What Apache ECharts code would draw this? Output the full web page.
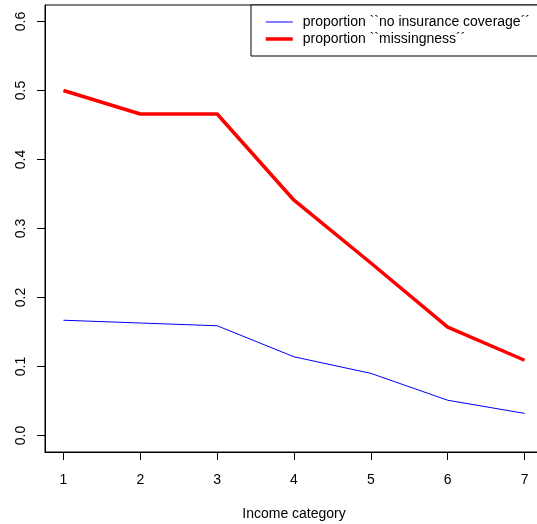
<!DOCTYPE html>
<html>
<head>
<meta charset="utf-8">
<script src="https://cdn.jsdelivr.net/npm/echarts@6/dist/echarts.min.js"></script>
<style>html,body{margin:0;padding:0;background:#fff}#c{width:537px;height:524px}</style>
</head>
<body>
<div id="c"></div>
<script>
const categories = [1, 2, 3, 4, 5, 6, 7];
const noInsurance = [0.167, 0.163, 0.159, 0.114, 0.090, 0.051, 0.032];
const missingness = [0.500, 0.466, 0.466, 0.341, 0.250, 0.157, 0.109];
const xTicks = [1, 2, 3, 4, 5, 6, 7];
const yTicks = [0, 0.1, 0.2, 0.3, 0.4, 0.5, 0.6];
const seriesNames = ["proportion ``no insurance coverage´´", "proportion ``missingness´´"];

const font = "'Liberation Sans', Arial, Helvetica, sans-serif";
const chart = echarts.init(document.getElementById('c'), null, {renderer: 'canvas'});
chart.setOption({
  animation: false,
  backgroundColor: '#fff',
  textStyle: {fontFamily: font, color: '#000'},
  grid: {left: 45, top: 5, right: -6, bottom: 72, outerBoundsMode: 'none', containLabel: false,
         show: true, borderColor: '#000', borderWidth: 1, backgroundColor: 'transparent'},
  legend: {
    orient: 'vertical', left: 251, top: 5,
    backgroundColor: '#fff', borderColor: '#000', borderWidth: 1, borderRadius: 0,
    padding: [10, 30, 10, 13],
    itemWidth: 27, itemHeight: 14, itemGap: 3,
    itemStyle: {opacity: 0},
    textStyle: {fontFamily: font, fontSize: 14, color: '#000', padding: [0, 0, 0, 5]},
    data: [
      {name: seriesNames[0], lineStyle: {width: 1, color: '#0000ff'}},
      {name: seriesNames[1], lineStyle: {width: 3.5, color: '#ff0000'}}
    ]
  },
  xAxis: {
    type: 'value', min: 0.76, max: 7.24,
    name: 'Income category', nameLocation: 'middle', nameGap: 55,
    nameTextStyle: {fontFamily: font, fontSize: 14, color: '#000'},
    splitLine: {show: false},
    axisLine: {show: true, onZero: false, lineStyle: {color: '#000', width: 1}},
    axisTick: {show: true, length: 8, lineStyle: {color: '#000'}, customValues: xTicks},
    axisLabel: {fontFamily: font, fontSize: 14, color: '#000', margin: 21, customValues: xTicks, formatter: v => String(v)}
  },
  yAxis: {
    type: 'value', min: -0.024, max: 0.624,
    splitLine: {show: false},
    axisLine: {show: true, onZero: false, lineStyle: {color: '#000', width: 1}},
    axisTick: {show: true, length: 8, lineStyle: {color: '#000'}, customValues: yTicks},
    axisLabel: {fontFamily: font, fontSize: 14, color: '#000', margin: 17, rotate: 90, customValues: yTicks, formatter: v => v.toFixed(1)}
  },
  series: [
    {name: seriesNames[0], type: 'line', symbol: 'none', data: categories.map((c, i) => [c, noInsurance[i]]), lineStyle: {color: '#0000ff', width: 1}, itemStyle: {color: '#0000ff'}},
    {name: seriesNames[1], type: 'line', symbol: 'none', data: categories.map((c, i) => [c, missingness[i]]), lineStyle: {color: '#ff0000', width: 3.5}, itemStyle: {color: '#ff0000'}}
  ]
});
</script>
</body>
</html>
